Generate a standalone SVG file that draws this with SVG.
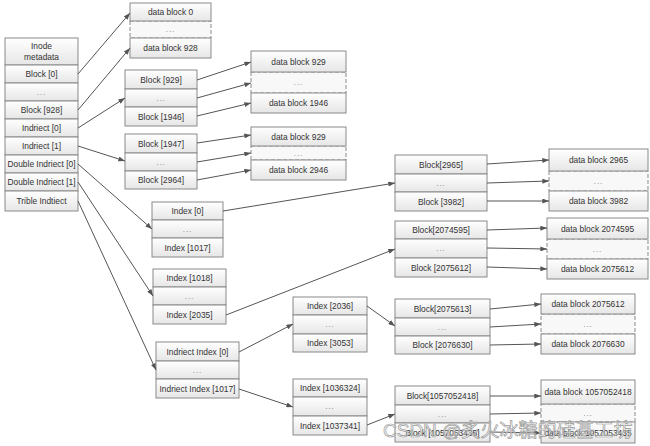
<svg xmlns="http://www.w3.org/2000/svg" width="650" height="446" viewBox="0 0 650 446">
<style>
.b{fill:url(#g);stroke:#8a8a8a;stroke-width:1}
.d{fill:#f8f8f8;stroke:#8a8a8a;stroke-width:1;stroke-dasharray:4,2}
.t{font-family:"Liberation Sans",Arial,sans-serif;font-size:8.4px;fill:#333;text-anchor:middle;dominant-baseline:central}
.e{font-family:"Liberation Sans",Arial,sans-serif;font-size:8px;fill:#777;text-anchor:middle;dominant-baseline:central;letter-spacing:1px}
.c line{stroke:#555;stroke-width:1;marker-end:url(#a)}
.w{font-family:"Liberation Sans","Noto Sans CJK SC",sans-serif;font-size:19px;fill:#fff;fill-opacity:0.55;stroke:#9a9a9a;stroke-width:0.7}
</style>
<defs>
<linearGradient id="g" x1="0" y1="0" x2="0" y2="1">
<stop offset="0" stop-color="#ffffff"/>
<stop offset="1" stop-color="#e6e6e6"/>
</linearGradient>
<marker id="a" viewBox="0 0 8 6" refX="8" refY="3" markerWidth="7" markerHeight="5" markerUnits="userSpaceOnUse" orient="auto">
<path d="M0,0 L8,3 L0,6 z" fill="#555"/>
</marker>
</defs>
<rect width="650" height="446" fill="#fff"/>

<g id="inode">
<rect class="b" x="5" y="38" width="73" height="27"/><text class="t" x="41.5" y="46">Inode</text><text class="t" x="41.5" y="57">metadata</text>
<rect class="b" x="5" y="65" width="73" height="18"/><text class="t" x="41.5" y="74">Block [0]</text>
<rect class="b" x="5" y="83" width="73" height="18"/><text class="e" x="41.5" y="92">...</text>
<rect class="b" x="5" y="101" width="73" height="18"/><text class="t" x="41.5" y="110">Block [928]</text>
<rect class="b" x="5" y="119" width="73" height="18"/><text class="t" x="41.5" y="128">Indriect [0]</text>
<rect class="b" x="5" y="137" width="73" height="18"/><text class="t" x="41.5" y="146">Indriect [1]</text>
<rect class="b" x="5" y="155" width="73" height="18"/><text class="t" x="41.5" y="164">Double Indriect [0]</text>
<rect class="b" x="5" y="173" width="73" height="18"/><text class="t" x="41.5" y="182">Double Indriect [1]</text>
<rect class="b" x="5" y="191" width="73" height="20"/><text class="t" x="41.5" y="201">Trible Indtiect</text>
</g>

<g id="data0">
<rect class="d" x="130" y="21" width="81" height="17"/><text class="e" x="170.5" y="29.5">...</text>
<rect class="b" x="130" y="3" width="81" height="18"/><text class="t" x="170.5" y="12">data block 0</text>
<rect class="b" x="130" y="38" width="81" height="20"/><text class="t" x="170.5" y="48">data block 928</text>
</g>

<g id="blk929">
<rect class="b" x="125" y="70" width="72" height="19"/><text class="t" x="161" y="79.5">Block [929]</text>
<rect class="b" x="125" y="89" width="72" height="18"/><text class="e" x="161" y="98">...</text>
<rect class="b" x="125" y="107" width="72" height="19"/><text class="t" x="161" y="116.5">Block [1946]</text>
</g>

<g id="data929">
<rect class="d" x="251" y="72" width="95" height="21"/><text class="e" x="298.5" y="82.5">...</text>
<rect class="b" x="251" y="51" width="95" height="21"/><text class="t" x="298.5" y="61.5">data block 929</text>
<rect class="b" x="251" y="93" width="95" height="20"/><text class="t" x="298.5" y="103">data block 1946</text>
</g>

<g id="blk1947">
<rect class="b" x="125" y="134" width="72" height="19"/><text class="t" x="161" y="143.5">Block [1947]</text>
<rect class="b" x="125" y="153" width="72" height="18"/><text class="e" x="161" y="162">...</text>
<rect class="b" x="125" y="171" width="72" height="18"/><text class="t" x="161" y="180">Block [2964]</text>
</g>

<g id="data929b">
<rect class="d" x="251" y="146" width="95" height="14"/><text class="e" x="298.5" y="153">...</text>
<rect class="b" x="251" y="127" width="95" height="19"/><text class="t" x="298.5" y="136.5">data block 929</text>
<rect class="b" x="251" y="160" width="95" height="20"/><text class="t" x="298.5" y="170">data block 2946</text>
</g>

<g id="idx0">
<rect class="b" x="152" y="202" width="71" height="18"/><text class="t" x="187.5" y="211">Index [0]</text>
<rect class="b" x="152" y="220" width="71" height="18"/><text class="e" x="187.5" y="229">...</text>
<rect class="b" x="152" y="238" width="71" height="19"/><text class="t" x="187.5" y="247.5">Index [1017]</text>
</g>

<g id="idx1018">
<rect class="b" x="153" y="269" width="73" height="18"/><text class="t" x="189.5" y="278">Index [1018]</text>
<rect class="b" x="153" y="287" width="73" height="18"/><text class="e" x="189.5" y="296">...</text>
<rect class="b" x="153" y="305" width="73" height="19"/><text class="t" x="189.5" y="314.5">Index [2035]</text>
</g>

<g id="indidx">
<rect class="b" x="156" y="342" width="83" height="19"/><text class="t" x="197.5" y="351.5">Indriect Index [0]</text>
<rect class="b" x="156" y="361" width="83" height="18"/><text class="e" x="197.5" y="370">...</text>
<rect class="b" x="156" y="379" width="83" height="19"/><text class="t" x="197.5" y="388.5">Indriect Index [1017]</text>
</g>

<g id="idx2036">
<rect class="b" x="293" y="297" width="74" height="18"/><text class="t" x="330" y="306">Index [2036]</text>
<rect class="b" x="293" y="315" width="74" height="19"/><text class="e" x="330" y="324.5">...</text>
<rect class="b" x="293" y="334" width="74" height="18"/><text class="t" x="330" y="343">Index [3053]</text>
</g>

<g id="idx1036324">
<rect class="b" x="293" y="379" width="74" height="18"/><text class="t" x="330" y="388">Index [1036324]</text>
<rect class="b" x="293" y="397" width="74" height="19"/><text class="e" x="330" y="406.5">...</text>
<rect class="b" x="293" y="416" width="74" height="19"/><text class="t" x="330" y="425.5">Index [1037341]</text>
</g>

<g id="blk2965">
<rect class="b" x="395" y="155" width="92" height="19"/><text class="t" x="441" y="164.5">Block[2965]</text>
<rect class="b" x="395" y="174" width="92" height="18"/><text class="e" x="441" y="183">...</text>
<rect class="b" x="395" y="192" width="92" height="19"/><text class="t" x="441" y="201.5">Block [3982]</text>
</g>

<g id="data2965">
<rect class="d" x="549" y="171" width="99" height="20"/><text class="e" x="598.5" y="181">...</text>
<rect class="b" x="549" y="149" width="99" height="22"/><text class="t" x="598.5" y="160">data block 2965</text>
<rect class="b" x="549" y="191" width="99" height="20"/><text class="t" x="598.5" y="201">data block 3982</text>
</g>

<g id="blk2074595">
<rect class="b" x="395" y="221" width="92" height="18"/><text class="t" x="441" y="230">Block[2074595]</text>
<rect class="b" x="395" y="239" width="92" height="19"/><text class="e" x="441" y="248.5">...</text>
<rect class="b" x="395" y="258" width="92" height="19"/><text class="t" x="441" y="267.5">Block [2075612]</text>
</g>

<g id="data2074595">
<rect class="d" x="547" y="239" width="101" height="20"/><text class="e" x="597.5" y="249">...</text>
<rect class="b" x="547" y="218" width="101" height="21"/><text class="t" x="597.5" y="228.5">data block 2074595</text>
<rect class="b" x="547" y="259" width="101" height="20"/><text class="t" x="597.5" y="269">data block 2075612</text>
</g>

<g id="blk2075613">
<rect class="b" x="395" y="299" width="95" height="19"/><text class="t" x="442.5" y="308.5">Block[2075613]</text>
<rect class="b" x="395" y="318" width="95" height="18"/><text class="e" x="442.5" y="327">...</text>
<rect class="b" x="395" y="336" width="95" height="18"/><text class="t" x="442.5" y="345">Block [2076630]</text>
</g>

<g id="data2075612">
<rect class="d" x="541" y="314" width="94" height="20"/><text class="e" x="588" y="324">...</text>
<rect class="b" x="541" y="294" width="94" height="20"/><text class="t" x="588" y="304">data block 2075612</text>
<rect class="b" x="541" y="334" width="94" height="20"/><text class="t" x="588" y="344">data block 2076630</text>
</g>

<g id="blk1057052418">
<rect class="b" x="395" y="386" width="95" height="19"/><text class="t" x="442.5" y="395.5">Block[1057052418]</text>
<rect class="b" x="395" y="405" width="95" height="18"/><text class="e" x="442.5" y="414">...</text>
<rect class="b" x="395" y="423" width="95" height="19"/><text class="t" x="442.5" y="432.5">Block [1057053435]</text>
</g>

<g id="data1057052418">
<rect class="d" x="541" y="404" width="94" height="18"/><text class="e" x="588" y="413">...</text>
<rect class="b" x="541" y="380" width="94" height="24"/><text class="t" x="588" y="392">data block 1057052418</text>
<rect class="b" x="541" y="422" width="94" height="21"/><text class="t" x="588" y="432.5">data block 1057053435</text>
</g>

<g id="connectors" class="c">
<line x1="78" y1="74" x2="130" y2="13"/>
<line x1="78" y1="110" x2="130" y2="48"/>
<line x1="78" y1="128" x2="125" y2="98"/>
<line x1="78" y1="146" x2="125" y2="161"/>
<line x1="78" y1="164" x2="152" y2="229"/>
<line x1="78" y1="182" x2="153" y2="296"/>
<line x1="78" y1="201" x2="156" y2="370"/>
<line x1="197" y1="80" x2="251" y2="62"/>
<line x1="197" y1="98" x2="251" y2="83"/>
<line x1="197" y1="116" x2="251" y2="103"/>
<line x1="197" y1="143" x2="251" y2="135"/>
<line x1="197" y1="162" x2="251" y2="153"/>
<line x1="197" y1="180" x2="251" y2="170"/>
<line x1="223" y1="211" x2="395" y2="183"/>
<line x1="226" y1="315" x2="395" y2="249"/>
<line x1="239" y1="352" x2="293" y2="324"/>
<line x1="239" y1="389" x2="293" y2="407"/>
<line x1="367" y1="306" x2="395" y2="326"/>
<line x1="367" y1="425" x2="395" y2="414"/>
<line x1="487" y1="164" x2="549" y2="160"/>
<line x1="487" y1="183" x2="549" y2="181"/>
<line x1="487" y1="201" x2="549" y2="201"/>
<line x1="487" y1="230" x2="547" y2="228"/>
<line x1="487" y1="248" x2="547" y2="249"/>
<line x1="487" y1="267" x2="547" y2="269"/>
<line x1="490" y1="309" x2="541" y2="304"/>
<line x1="490" y1="327" x2="541" y2="324"/>
<line x1="490" y1="345" x2="541" y2="344"/>
<line x1="490" y1="396" x2="541" y2="396"/>
<line x1="490" y1="414" x2="541" y2="413"/>
<line x1="490" y1="432" x2="541" y2="433"/>
</g>

<text class="w" x="383" y="437">CSDN @炙火冰糖的硅基工坊</text>
</svg>
